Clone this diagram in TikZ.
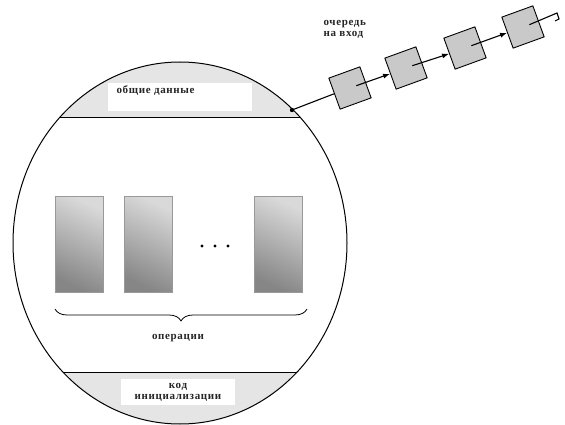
\documentclass[tikz,border=0pt]{standalone}
\usepackage{fontspec}
\setmainfont{Liberation Serif}
\newfontfamily\lblfont[LetterSpace=6]{Liberation Serif}
\usetikzlibrary{arrows.meta,calc,decorations.pathreplacing}

\tikzset{
  lbl/.style={font=\lblfont\bfseries\fontsize{11}{12}\selectfont, text=black!85},
  qbox/.style={draw, line width=0.9pt, fill=gray!42, minimum size=33pt, inner sep=0pt, rotate=20},
  oprect/.style={draw=gray!80, top color=gray!30, bottom color=gray!95, shading angle=-25},
  link/.style={line width=1.1pt, -{Latex[length=7pt,width=5pt]}}
}

\begin{document}
\begin{tikzpicture}[x=1pt,y=-1pt]
\useasboundingbox (0,0) rectangle (565,425);

% caps of the monitor
\begin{scope}
\clip (180,243) ellipse [x radius=167pt, y radius=181pt];
\fill[gray!20] (0,0) rectangle (565,117);
\fill[gray!20] (0,372) rectangle (565,425);
\draw[line width=0.8pt] (0,117) -- (565,117);
\draw[line width=0.8pt] (0,372) -- (565,372);
\end{scope}
\draw[line width=1pt] (180,243) ellipse [x radius=167pt, y radius=181pt];

\fill[white] (108,83) rectangle (252,111);
\node[lbl, anchor=west] (shared) at (113,91) {общие данные};
\fill[white] (121,379) rectangle (235,405);
\node[lbl, align=center] (init) at (178,392) {код\\[-1pt]инициализации};

% operations
\foreach \x in {55,124,254} {
  \shade[oprect] (\x,196) rectangle ++(48,96);
}
\foreach \x in {202,215,228} {
  \fill (\x,246) circle (1.7);
}
\draw[line width=0.8pt, decorate, decoration={brace, mirror, amplitude=12pt}] (55,309) -- (307,309);
\node[lbl] (ops) at (178,338) {операции};

% entry queue
\coordinate (hook) at (292,110);
\fill (hook) circle (2.2);
\node[qbox] (q1) at (350,88) {};
\node[qbox] (q2) at (406,68) {};
\node[qbox] (q3) at (465,48) {};
\node[qbox] (q4) at (523,27) {};
\draw[line width=1.1pt] (hook) -- (q1.west);
\foreach \i/\j in {1/2,2/3,3/4} {
  \draw[link] ($(q\i.center)!0.4!(q\i.east)$) -- (q\j.west);
}
\coordinate (qend) at (557,13);
\draw[line width=1.1pt] ($(q4.center)!0.4!(q4.east)$) -- (qend) -- (559,19) -- (555,21);
\node[lbl, anchor=north west, align=left] (queue) at (320,17) {очередь\\[-1pt]на вход};
\end{tikzpicture}
\end{document}
